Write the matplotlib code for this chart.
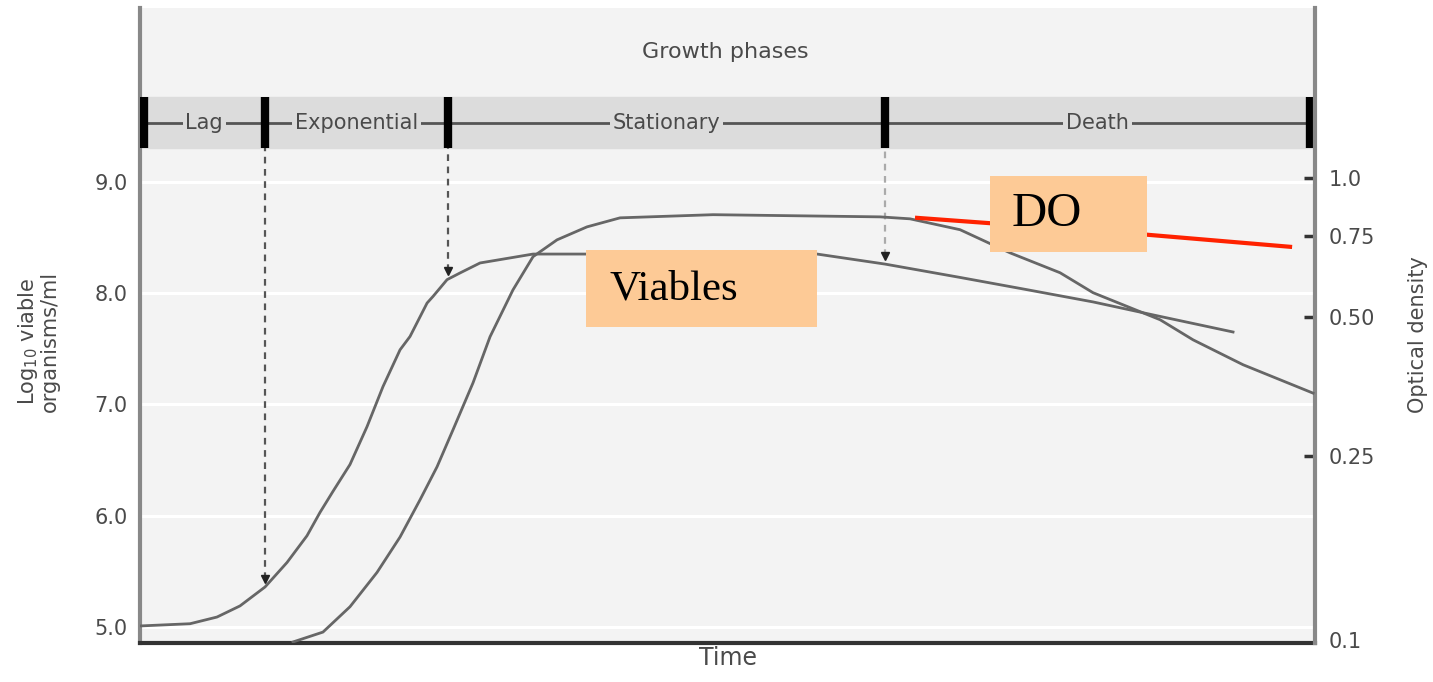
import numpy as np
import matplotlib
matplotlib.use("Agg")
import matplotlib.pyplot as plt
from matplotlib.patches import Rectangle

# time axis is arbitrary (0..100)
t_viable = [0, 4.26, 6.55, 8.51, 10.64, 12.51, 14.21, 15.32, 16.43, 17.87, 19.32,
            20.68, 22.13, 22.98, 24.43, 24.94, 26.13, 27.23, 28.94, 33.45, 38.04,
            57.62, 63.40, 69.79, 75.49, 81.11, 86.81, 93.02]
log_viable = [5.01, 5.03, 5.09, 5.19, 5.36, 5.58, 5.82, 6.03, 6.22, 6.46, 6.80,
              7.16, 7.49, 7.61, 7.91, 7.97, 8.12, 8.18, 8.27, 8.35, 8.35,
              8.35, 8.26, 8.14, 8.03, 7.92, 7.79, 7.65]

t_od = [13.02, 15.57, 17.87, 20.17, 22.13, 23.83, 25.28, 26.64, 28.34, 29.79,
        31.74, 33.45, 35.49, 38.04, 40.85, 48.77, 62.98, 65.53, 69.79, 74.04,
        78.30, 81.11, 86.81, 89.62, 93.87, 99.83]
od = [0.099, 0.104, 0.118, 0.140, 0.167, 0.201, 0.237, 0.285, 0.360, 0.453,
      0.572, 0.675, 0.734, 0.783, 0.819, 0.832, 0.823, 0.815, 0.772, 0.688,
      0.623, 0.564, 0.493, 0.446, 0.394, 0.342]

t_do = [66.13, 85.70, 97.87]
do_red = [0.819, 0.753, 0.709]

phase_names = ["Lag", "Exponential", "Stationary", "Death"]
phase_bounds = [0.3, 10.64, 26.21, 63.40, 99.57]

left_ticks = [5.0, 6.0, 7.0, 8.0, 9.0]
right_ticks = [0.1, 0.25, 0.5, 0.75, 1.0]
right_labels = ["0.1", "0.25", "0.50", "0.75", "1.0"]

bg = "#f3f3f3"
band = "#dcdcdc"
txt = "#4a4a4a"
curve = "#666666"
peach = "#fdca96"

fig = plt.figure(figsize=(14.33, 6.82), dpi=100)
ax = fig.add_axes([0.0977, 0.0572, 0.82, 0.9311])
ax.set_facecolor(bg)
ax.set_xlim(0, 100)
ax.set_ylim(4.857, 10.56)

# white grid lines at the left ticks
for v in left_ticks:
    ax.axhline(v, color="white", lw=2.2, zorder=1)

# growth phase band
band_lo, band_hi = 9.30, 9.76
band_mid = (band_lo + band_hi) / 2
ax.axhspan(band_lo, band_hi, color=band, zorder=1)
ax.plot([phase_bounds[0], phase_bounds[-1]], [band_mid, band_mid], color="#555555", lw=2, zorder=2)
ax.vlines(phase_bounds, band_lo, band_hi, color="black", lw=6, zorder=4)
for i, name in enumerate(phase_names):
    xm = (phase_bounds[i] + phase_bounds[i + 1]) / 2
    ax.text(xm, band_mid, name, ha="center", va="center", fontsize=15, color=txt,
            bbox=dict(facecolor=band, edgecolor="none", pad=2), zorder=3)
ax.text(0.498, 0.931, "Growth phases", transform=ax.transAxes, ha="center", va="center",
        fontsize=16, color=txt)

# viable count curve
ax.plot(t_viable, log_viable, color=curve, lw=2, zorder=3)

# dashed arrows from phase boundaries to the viable curve
arrow_cols = ["#555555", "#555555", "#aaaaaa"]
for b, c in zip(phase_bounds[1:4], arrow_cols):
    tip = np.interp(b, t_viable, log_viable) + 0.07
    ax.vlines(b, tip, band_lo, color=c, lw=1.6, linestyles=(0, (3, 2.5)), zorder=2)
    ax.plot(b, tip, marker="v", color="#222222", ms=6, zorder=3)

ax.set_yticks(left_ticks)
ax.set_yticklabels([f"{v:.1f}" for v in left_ticks])
ax.tick_params(axis="y", length=0, pad=9, labelsize=15, labelcolor=txt)
ax.set_xticks([])
ax.set_xlabel("Time", fontsize=17, color=txt, labelpad=2)

ax.spines["top"].set_visible(False)
ax.spines["left"].set_color("#888888")
ax.spines["left"].set_linewidth(3)
ax.spines["right"].set_visible(False)
ax.spines["bottom"].set_color("#333333")
ax.spines["bottom"].set_linewidth(3)

# optical density on log right axis
ax2 = ax.twinx()
ax2.set_yscale("log")
ax2.set_ylim(0.0985, 2.33)
ax2.plot(t_od, od, color=curve, lw=2, zorder=3)
ax2.plot(t_do, do_red, color="#ff2200", lw=3, zorder=3)
ax2.set_yticks(right_ticks)
ax2.set_yticklabels(right_labels)
ax2.minorticks_off()
ax2.tick_params(axis="y", direction="in", length=8, width=2.5, color="#333333",
                labelsize=15, labelcolor=txt, pad=10)
ax2.yaxis.get_major_ticks()[0].tick2line.set_visible(False)
for s in ["top", "left", "bottom"]:
    ax2.spines[s].set_visible(False)
ax2.spines["right"].set_color("#888888")
ax2.spines["right"].set_linewidth(3)

# label boxes
ax2.add_patch(Rectangle((0.3796, 0.4976), 0.1964, 0.1214, transform=ax2.transAxes,
                        facecolor=peach, edgecolor="none", zorder=5))
ax2.text(0.3999, 0.557, "Viables", transform=ax2.transAxes, ha="left", va="center",
         fontsize=31, family="Liberation Serif", color="black", zorder=6)
ax2.add_patch(Rectangle((0.7234, 0.6157), 0.1336, 0.1197, transform=ax2.transAxes,
                        facecolor=peach, edgecolor="none", zorder=5))
ax2.text(0.742, 0.6756, "DO", transform=ax2.transAxes, ha="left", va="center",
         fontsize=35, family="Liberation Serif", color="black", zorder=6)

fig.text(0.0265, 0.50, "Log$_{10}$ viable\norganisms/ml", rotation=90, ha="center", va="center",
         fontsize=15, color=txt, linespacing=1.0)
fig.text(0.9895, 0.51, "Optical density", rotation=90, ha="center", va="center",
         fontsize=15, color=txt)

fig.savefig("out.png", dpi=100)
